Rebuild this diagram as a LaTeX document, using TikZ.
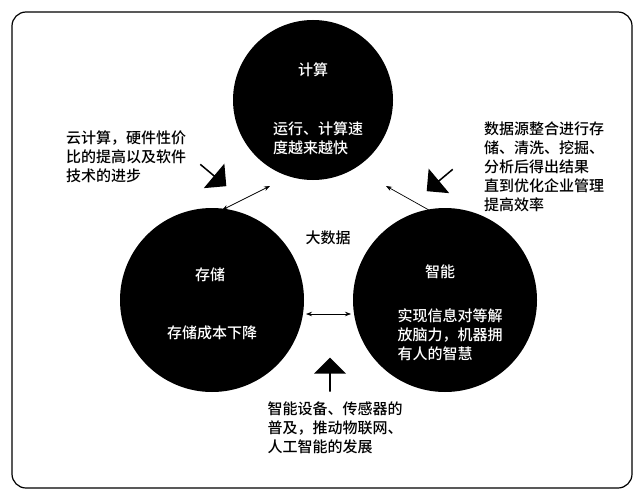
\documentclass[tikz,border=0pt]{standalone}
\usepackage{fontspec}
\newfontfamily\cjk{Noto Sans CJK SC Medium}
\usetikzlibrary{shapes.arrows,arrows.meta}
\begin{document}
\begin{tikzpicture}[x=1pt,y=-1pt,
  circ/.style={circle,fill=black,inner sep=0pt},
  wt/.style={text=white,font=\cjk\fontsize{15}{19}\selectfont,align=left},
  bt/.style={font=\cjk\fontsize{15}{19}\selectfont,align=left},
  blk/.style={single arrow,fill=black,minimum height=34pt,minimum width=32pt,single arrow head extend=4pt,inner sep=0pt},
  dbl/.style={{Stealth[length=6pt]}-{Stealth[length=6pt]},line width=0.7pt}]
\useasboundingbox (0,0) rectangle (644,500);
\draw[line width=1.2pt,rounded corners=14pt] (12,12) rectangle (632,488);
\node[circ,minimum size=160pt] (top) at (313,100) {};
\node[circ,minimum size=184pt] (left) at (212,300) {};
\node[circ,minimum size=184pt] (right) at (445,300) {};
\node[wt] (t1) at (313,70) {计算};
\node[wt] (t2) at (318,138) {运行、计算速\\度越来越快};
\node[wt] (l1) at (210,275) {存储};
\node[wt] (l2) at (212,333) {存储成本下降};
\node[wt] (r1) at (440,272) {智能};
\node[wt] (r2) at (450,335) {实现信息对等解\\放脑力，机器拥\\有人的智慧};
\node[bt] (c) at (328,238) {大数据};
\node[bt] (a) at (126,157) {云计算，硬件性价\\比的提高以及软件\\技术的进步};
\node[bt] (b) at (544,167) {数据源整合进行存\\储、清洗、挖掘、\\分析后得出结果\\直到优化企业管理\\提高效率};
\node[bt] (d) at (335,428) {智能设备、传感器的\\普及，推动物联网、\\人工智能的发展};
\coordinate (p1) at (270,186); \coordinate (p2) at (222,210);
\coordinate (q1) at (386,186); \coordinate (q2) at (436,214);
\coordinate (s1) at (306,314); \coordinate (s2) at (351,314);
\draw[dbl] (p1) -- (p2);
\draw[dbl] (q1) -- (q2);
\draw[dbl] (s1) -- (s2);
\node[blk,rotate=-40] (ba) at (213,175) {};
\node[blk,rotate=-140] (bb) at (440,180) {};
\node[blk,rotate=90] (bc) at (330,375) {};
\end{tikzpicture}
\end{document}
